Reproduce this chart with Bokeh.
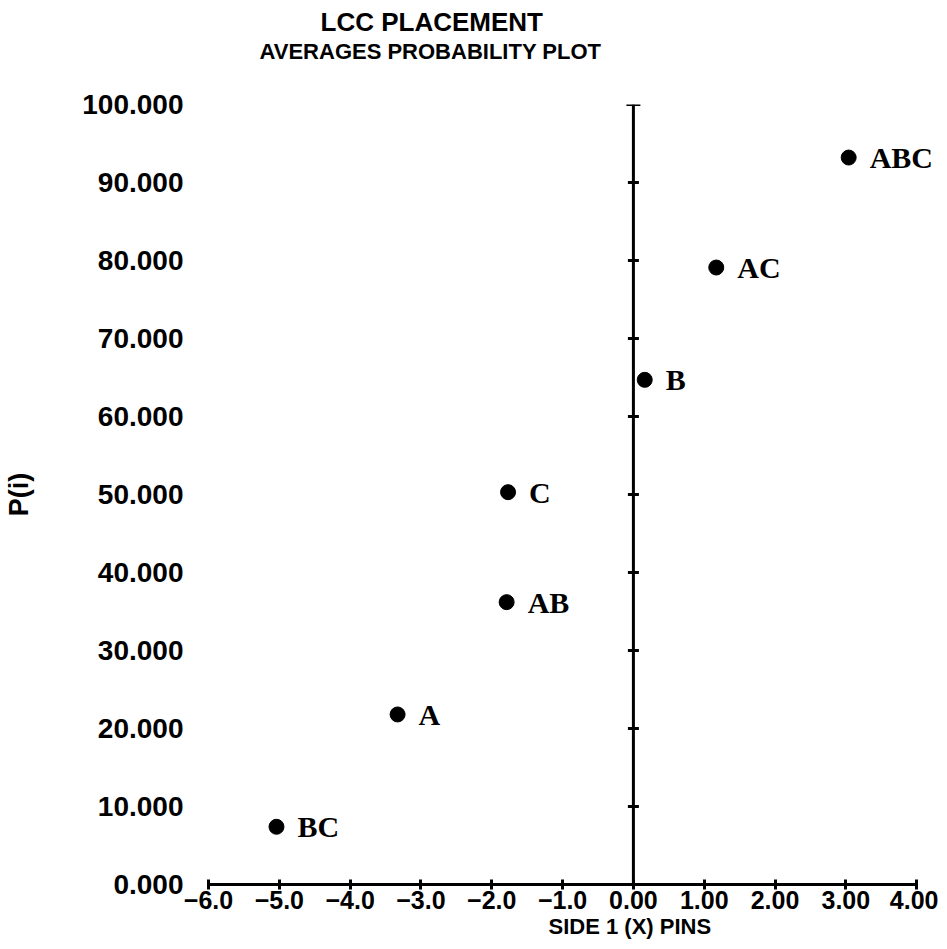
from bokeh.plotting import figure
from bokeh.models import Range1d, FixedTicker, Title, ColumnDataSource
from bokeh.core.properties import value
from bokeh.embed import file_html
from bokeh.resources import INLINE

# Data
labels = ["BC", "A", "AB", "C", "B", "AC", "ABC"]
x_pins = [-5.04, -3.33, -1.79, -1.77, 0.16, 1.17, 3.04]
p_i = [7.4, 21.8, 36.2, 50.3, 64.7, 79.1, 93.2]

x_ticks = [-6, -5, -4, -3, -2, -1, 0, 1, 2, 3, 4]
x_tick_labels = ["\u22126.0", "\u22125.0", "\u22124.0", "\u22123.0", "\u22122.0", "\u22121.0",
                 "0.00", "1.00", "2.00", "3.00", "4.00"]
y_ticks = [0, 10, 20, 30, 40, 50, 60, 70, 80, 90, 100]
y_tick_labels = ["0.000", "10.000", "20.000", "30.000", "40.000", "50.000",
                 "60.000", "70.000", "80.000", "90.000", "100.000"]
inner_ticks = [10, 20, 30, 40, 50, 60, 70, 80, 90]

SANS = "Liberation Sans"
SERIF = "Liberation Serif"

p = figure(width=938, height=945, output_backend="svg", toolbar_location=None,
           x_range=Range1d(-6, 4.28), y_range=Range1d(0, 100),
           min_border_left=208, min_border_right=2, min_border_top=104, min_border_bottom=61)
p.background_fill_color = "white"
p.border_fill_color = "white"
p.outline_line_color = None
p.xgrid.visible = False
p.ygrid.visible = False

# titles: spacer, then subtitle, then main title (stacked outward from the plot)
spacer = Title(text=" ", text_font_size="1px", standoff=38, text_color="white")
sub = Title(text="AVERAGES PROBABILITY PLOT", align="left", offset=51,
            text_font=SANS, text_font_size="22px", text_font_style="bold",
            text_color="black", standoff=0)
main = Title(text="LCC PLACEMENT", align="left", offset=112,
             text_font=SANS, text_font_size="26px", text_font_style="bold",
             text_color="black", standoff=0)
p.add_layout(spacer, "above")
p.add_layout(sub, "above")
p.add_layout(main, "above")

# bottom axis
xa = p.xaxis[0]
xa.bounds = (-6, 4)
xa.ticker = FixedTicker(ticks=x_ticks)
xa.major_label_overrides = {t: l for t, l in zip(x_ticks, x_tick_labels)}
xa.axis_line_width = 3
xa.axis_line_color = "black"
xa.major_tick_in = 5
xa.major_tick_out = 5
xa.major_tick_line_width = 3
xa.minor_tick_line_color = None
xa.major_label_standoff = 1
xa.major_label_text_font = SANS
xa.major_label_text_font_size = "25px"
xa.major_label_text_font_style = "bold"
xa.major_label_text_color = "black"

# x axis title, centred under the zero line as in the reference
xtitle = Title(text="SIDE 1 (X) PINS", align="left", offset=340,
               text_font=SANS, text_font_size="22px", text_font_style="bold",
               text_color="black", standoff=0)
p.add_layout(xtitle, "below")

# left axis: labels only
ya = p.yaxis[0]
ya.ticker = FixedTicker(ticks=y_ticks)
ya.major_label_overrides = {t: l for t, l in zip(y_ticks, y_tick_labels)}
ya.axis_line_color = None
ya.major_tick_line_color = None
ya.minor_tick_line_color = None
ya.major_tick_in = 0
ya.major_tick_out = 0
ya.major_label_standoff = 25
ya.major_label_text_font = SANS
ya.major_label_text_font_size = "28px"
ya.major_label_text_font_style = "bold"
ya.major_label_text_color = "black"
ya.axis_label = "P(i)"
ya.axis_label_text_font = SANS
ya.axis_label_text_font_size = "27px"
ya.axis_label_text_font_style = "bold"
ya.axis_label_text_color = "black"
ya.axis_label_standoff = 45

# vertical reference axis at x = 0 with its tick marks
p.segment(x0=[0], y0=[0], x1=[0], y1=[100], line_width=3, line_color="black")
p.scatter(x=[0] * len(inner_ticks), y=inner_ticks, marker="dash", size=11,
          line_width=3, line_color="black")
p.scatter(x=[0], y=[100], marker="dash", size=14, line_width=3, line_color="black")

src = ColumnDataSource(dict(x=x_pins, y=p_i, label=labels))
p.scatter("x", "y", source=src, size=15, fill_color="black", line_color="black")
p.text("x", "y", text="label", source=src, x_offset=21, text_baseline="middle",
       text_align="left", text_font=value(SERIF), text_font_size="30px",
       text_font_style="bold", text_color="black")

open("out.html", "w").write(file_html(p, INLINE))
